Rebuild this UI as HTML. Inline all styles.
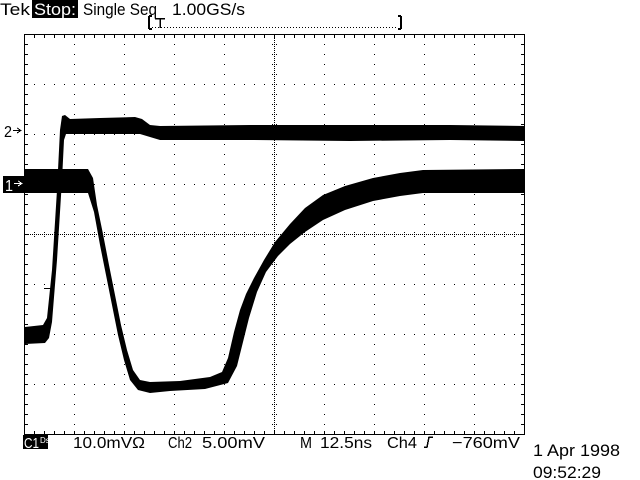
<!DOCTYPE html>
<html><head><meta charset="utf-8"><style>
html,body{margin:0;padding:0;background:#fff;width:640px;height:480px;overflow:hidden}
svg{display:block}
text{font-family:"Liberation Sans",sans-serif;fill:#000}
</style></head><body>
<svg width="640" height="480" viewBox="0 0 640 480" xmlns="http://www.w3.org/2000/svg" shape-rendering="crispEdges">
<!-- header -->
<text x="0" y="15" font-size="17" textLength="30" lengthAdjust="spacingAndGlyphs">Tek</text>
<rect x="32" y="0" width="46" height="18" fill="#000"/>
<text x="34" y="15" font-size="17" style="fill:#fff" textLength="42" lengthAdjust="spacingAndGlyphs">Stop:</text>
<text x="83" y="15" font-size="17" textLength="74" lengthAdjust="spacingAndGlyphs">Single Seq</text>
<text x="172" y="15" font-size="17" textLength="73" lengthAdjust="spacingAndGlyphs">1.00GS/s</text>
<!-- record bracket -->
<path d="M149 16 V29 M149 16 H152 M149 29 H152 M401 16 V29 M401 16 H398 M401 29 H398" stroke="#000" stroke-width="2" fill="none"/>
<line x1="152" y1="27.5" x2="398" y2="27.5" stroke="#000" stroke-width="1" stroke-dasharray="1 2"/>
<path d="M155 18.5 H165 M160 18 V28" stroke="#000" stroke-width="1.5" fill="none"/>
<!-- graticule border -->
<rect x="24.5" y="34.5" width="500" height="400" fill="none" stroke="#000" stroke-width="1"/>
<!-- border ticks -->
<line x1="24" y1="36.5" x2="525" y2="36.5" stroke="#000" stroke-width="3" stroke-dasharray="1 9" stroke-dashoffset="-10"/>
<line x1="24" y1="432.5" x2="525" y2="432.5" stroke="#000" stroke-width="3" stroke-dasharray="1 9" stroke-dashoffset="-10"/>
<line x1="26.5" y1="34" x2="26.5" y2="435" stroke="#000" stroke-width="3" stroke-dasharray="1 9" stroke-dashoffset="-10"/>
<line x1="522.5" y1="34" x2="522.5" y2="435" stroke="#000" stroke-width="3" stroke-dasharray="1 9" stroke-dashoffset="-10"/>
<!-- major dotted lines -->
<g stroke="#000" stroke-width="1" stroke-dasharray="1 9">
<line x1="74.5" y1="44" x2="74.5" y2="430"/><line x1="124.5" y1="44" x2="124.5" y2="430"/>
<line x1="174.5" y1="44" x2="174.5" y2="430"/><line x1="224.5" y1="44" x2="224.5" y2="430"/>
<line x1="324.5" y1="44" x2="324.5" y2="430"/><line x1="374.5" y1="44" x2="374.5" y2="430"/>
<line x1="424.5" y1="44" x2="424.5" y2="430"/><line x1="474.5" y1="44" x2="474.5" y2="430"/>
<line x1="34" y1="84.5" x2="520" y2="84.5"/><line x1="34" y1="134.5" x2="520" y2="134.5"/>
<line x1="34" y1="184.5" x2="520" y2="184.5"/><line x1="34" y1="284.5" x2="520" y2="284.5"/>
<line x1="34" y1="334.5" x2="520" y2="334.5"/><line x1="34" y1="384.5" x2="520" y2="384.5"/>
</g>
<!-- center axes -->
<g stroke="#000" stroke-width="1">
<line x1="274.5" y1="34" x2="274.5" y2="434" stroke-dasharray="1 1"/>
<line x1="24" y1="234.5" x2="524" y2="234.5" stroke-dasharray="1 1"/>
</g>
<line x1="272.5" y1="34" x2="272.5" y2="434" stroke="#000" stroke-width="1" stroke-dasharray="1 9"/>
<line x1="276.5" y1="34" x2="276.5" y2="434" stroke="#000" stroke-width="1" stroke-dasharray="1 9"/>
<line x1="24" y1="232.5" x2="524" y2="232.5" stroke="#000" stroke-width="1" stroke-dasharray="1 9"/>
<line x1="24" y1="236.5" x2="524" y2="236.5" stroke="#000" stroke-width="1" stroke-dasharray="1 9"/>
<!-- channel 2 trace -->
<polygon fill="#000" shape-rendering="auto" points="25,327 43,325 47,318 52,270 57,190 60,130 62,116 65,115 70,119 100,118 135,117 142,119 150,125 160,126 250,125 350,125 450,125 525,126 525,141 450,140 350,141 250,140 160,140 150,137 140,134 100,134 66,134 64,140 62,180 57,260 52,322 49,338 45,343 25,344"/>
<path d="M44 288.5 H53" stroke="#000" stroke-width="1"/>
<!-- channel 1 trace -->
<polygon fill="#000" shape-rendering="auto" points="25,169 88,169 93,178 97,205 103,234 109,265 115,295 121,325 127,350 133,370 140,380 150,382 180,381 210,377 222,372 228,358 234,332 240,310 246,294 254,278 264,260 275,242 290,224 305,208 323,195 345,186 373,178 400,173 423,170 525,169 525,193 423,193 400,196 373,201 345,210 323,220 305,232 290,244 278,256 266,272 257,292 249,318 243,342 237,366 228,383 205,389 170,391 150,393 138,390 130,380 124,360 118,335 112,305 106,275 100,245 94,212 88,193 25,193"/>
<!-- channel markers -->
<text x="4" y="137" font-size="16" textLength="8" lengthAdjust="spacingAndGlyphs">2</text>
<path d="M13 130.5 H20 M17 128 L21 130.5 L17 133" stroke="#000" stroke-width="1" fill="none"/>
<rect x="3" y="176" width="21" height="17" fill="#000"/>
<text x="5" y="191" font-size="16" style="fill:#fff" textLength="8" lengthAdjust="spacingAndGlyphs">1</text>
<path d="M14 183.5 H21 M18 181 L22 183.5 L18 186" stroke="#fff" stroke-width="1" fill="none"/>
<!-- bottom readout -->
<rect x="23" y="435" width="25" height="14" fill="#000"/>
<text x="24" y="448" font-size="15" style="fill:#fff" textLength="15" lengthAdjust="spacingAndGlyphs">C1</text>
<text x="40" y="443" font-size="8" style="fill:#fff">Ds</text>
<text x="73" y="448" font-size="16" textLength="72" lengthAdjust="spacingAndGlyphs">10.0mVΩ</text>
<text x="168" y="448" font-size="16" textLength="24" lengthAdjust="spacingAndGlyphs">Ch2</text>
<text x="202" y="448" font-size="16" textLength="63" lengthAdjust="spacingAndGlyphs">5.00mV</text>
<text x="300" y="448" font-size="16" textLength="12" lengthAdjust="spacingAndGlyphs">M</text>
<text x="320" y="448" font-size="16" textLength="52" lengthAdjust="spacingAndGlyphs">12.5ns</text>
<text x="387" y="448" font-size="16" textLength="30" lengthAdjust="spacingAndGlyphs">Ch4</text>
<path d="M424 447 H427 L429 437 H433" stroke="#000" stroke-width="1.5" fill="none"/>
<text x="452" y="448" font-size="16" textLength="68" lengthAdjust="spacingAndGlyphs">−760mV</text>
<text x="533" y="456" font-size="17" textLength="87" lengthAdjust="spacingAndGlyphs">1 Apr 1998</text>
<text x="533" y="478" font-size="17" textLength="68" lengthAdjust="spacingAndGlyphs">09:52:29</text>
</svg>
</body></html>
